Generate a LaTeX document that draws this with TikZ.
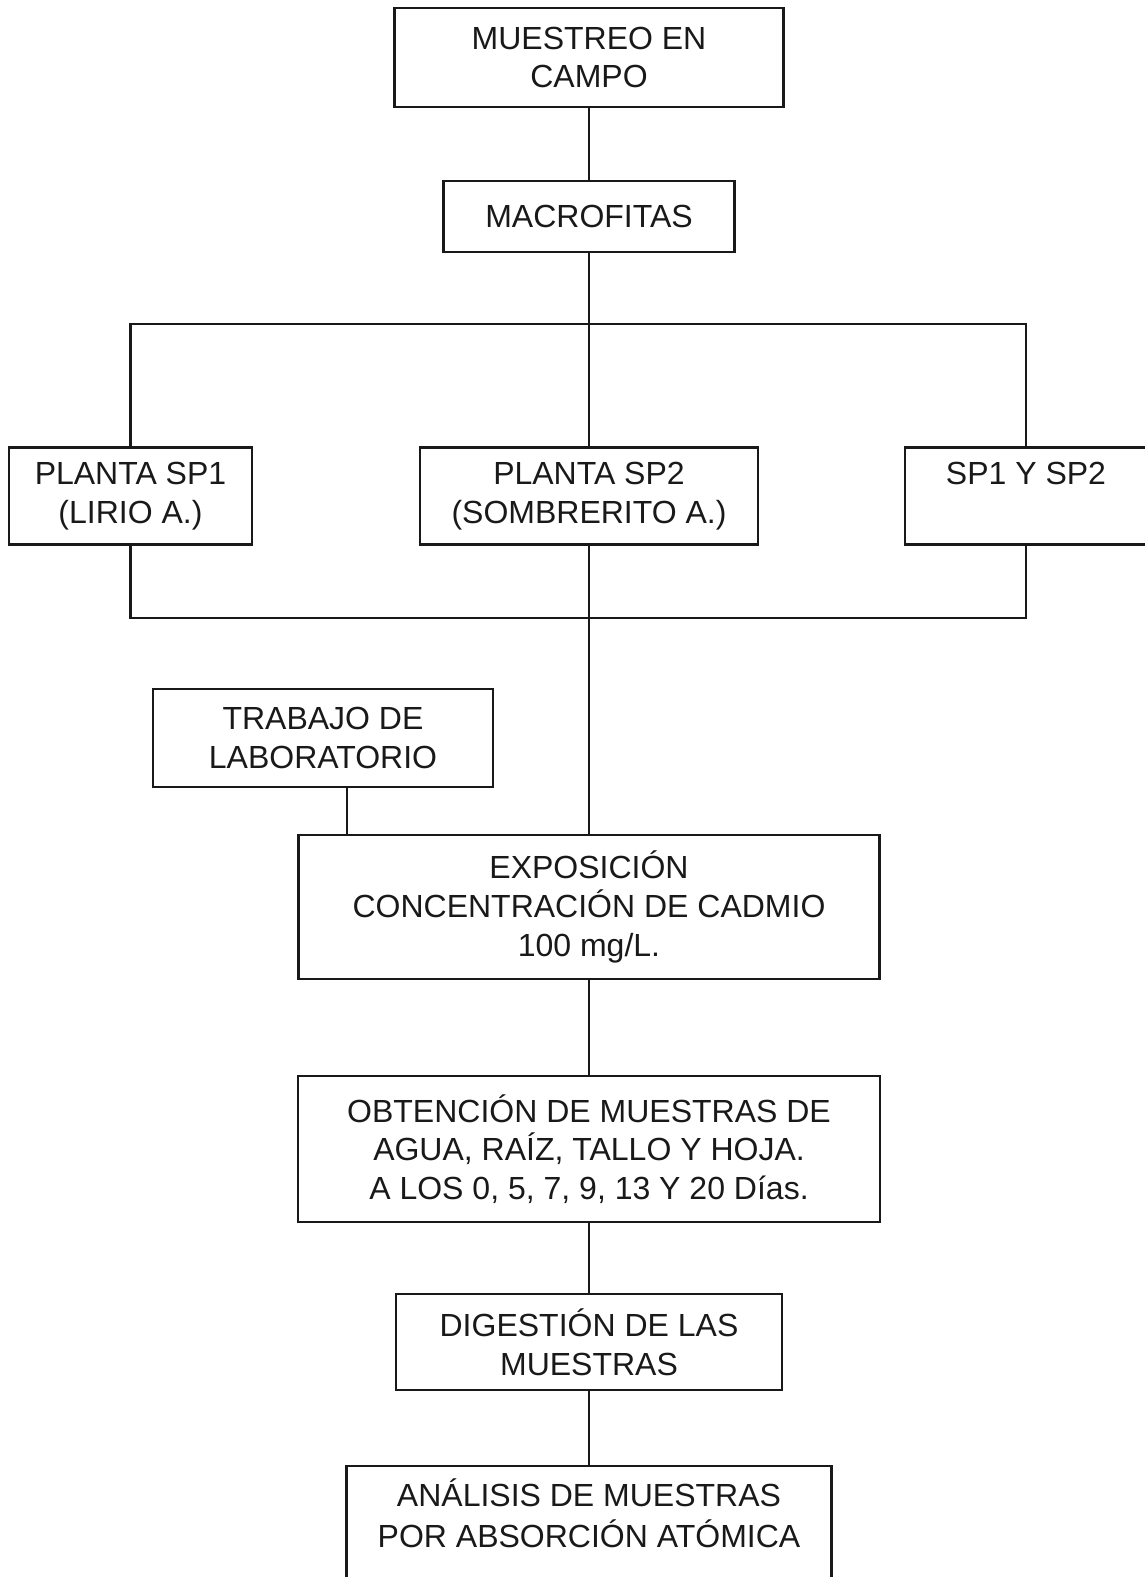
\documentclass[tikz,border=0pt]{standalone}
\usepackage{fontspec}
\setmainfont{Liberation Sans}
\usepackage{tikz}
\usetikzlibrary{shapes.geometric}
\tikzstyle{stage} = [rectangle, minimum height=48.5pt, inner sep=0pt, text centered, align=center, draw=black!90, line width=1.1pt, text=black!90, font=\fontsize{16pt}{19.3pt}\selectfont]
\tikzstyle{tall} = [stage, minimum height=72pt]
\tikzstyle{link} = [line width=1.1pt, draw=black!90]

\begin{document}
\begin{tikzpicture}[node distance=100pt]
    \useasboundingbox (0,0) rectangle (572pt,-788.5pt);
    \node (campo) [stage, minimum width=194.5pt, minimum height=49.5pt] at (294.5pt,-28.75pt) {MUESTREO EN\\CAMPO};
    \node (macro) [stage, below of=campo, yshift=20.5pt, minimum width=145.5pt, minimum height=35.5pt] {MACROFITAS};
    \node (sp2) [stage, below of=macro, yshift=-39.75pt, minimum width=169pt] {PLANTA SP2\\(SOMBRERITO A.)};
    \node (sp1) [stage, left of=sp2, xshift=-129.25pt, minimum width=121.5pt] {PLANTA SP1\\(LIRIO A.)};
    \node (sp3) [stage, right of=sp2, xshift=118.5pt, minimum width=121pt] {\strut SP1 Y SP2\\ \strut};
    \node (expo) [tall, below of=sp2, yshift=-105.5pt, minimum width=290.5pt] {EXPOSICIÓN\\CONCENTRACIÓN DE CADMIO\\100 mg/L.};
    \node (lab) [stage, above of=expo, xshift=-133pt, yshift=-15.5pt, minimum width=170pt, minimum height=49pt] {TRABAJO DE\\LABORATORIO};
    \node (obt) [tall, below of=expo, yshift=-21pt, minimum width=291pt, minimum height=73pt] {OBTENCIÓN DE MUESTRAS DE\\AGUA, RAÍZ, TALLO Y HOJA.\\A LOS 0, 5, 7, 9, 13 Y 20 Días.};
    \node (dig) [stage, below of=obt, yshift=3.5pt, minimum width=193pt, minimum height=48pt] {DIGESTIÓN DE LAS\\MUESTRAS};
    \node (ana) [tall, below of=dig, yshift=2pt, minimum width=242.5pt] {\strut ANÁLISIS DE MUESTRAS\\POR ABSORCIÓN ATÓMICA\\ \strut};

    \draw [link] (campo) -- (macro);
    \draw [link] (macro) -- (sp2);
    \draw [link] (sp1.north) -- ++(0,61.25pt) -| (sp3.north);
    \draw [link] (sp1.south) -- ++(0,-36pt) -| (sp3.south);
    \draw [link] (sp2) -- (expo);
    \draw [link] ([xshift=12pt]lab.south) -- ([xshift=12pt]lab.south |- expo.north);
    \draw [link] (expo) -- (obt);
    \draw [link] (obt) -- (dig);
    \draw [link] (dig) -- (ana);
  \end{tikzpicture}
\end{document}
